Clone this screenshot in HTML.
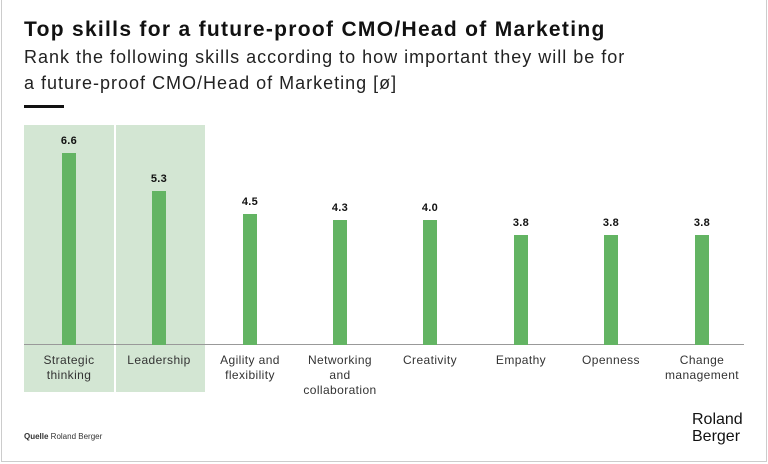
<!DOCTYPE html>
<html><head><style>
body{margin:0;width:768px;height:464px;overflow:hidden;background:#fff;font-family:"Liberation Sans",sans-serif;position:relative}
.frame{position:absolute;left:1px;top:0;width:764px;height:461px;border:1px solid #ccc;border-top:none}
.t{position:absolute;left:24px;top:18px;font-size:21px;font-weight:bold;color:#111;letter-spacing:1.3px;white-space:nowrap}
.s{position:absolute;left:24px;top:44px;font-size:18px;line-height:26px;color:#222;letter-spacing:1px;white-space:nowrap}
.rule{position:absolute;left:24px;top:105px;width:40px;height:3px;background:#111}
.hl{position:absolute;top:125px;height:267px;background:#d3e6d3}
.base{position:absolute;left:24px;top:344px;width:720px;height:1px;background:#999}
.bar{position:absolute;width:14px;background:#63b463;bottom:119px}
.v{position:absolute;width:60px;text-align:center;font-size:11px;font-weight:bold;color:#111;letter-spacing:0.3px}
.l{position:absolute;top:353px;width:100px;text-align:center;font-size:12px;line-height:15px;color:#333;letter-spacing:0.4px}
</style></head><body>
<div class="frame"></div>
<div class="t">Top skills for a future-proof CMO/Head of Marketing</div>
<div class="s">Rank the following skills according to how important they will be for<br>a future-proof CMO/Head of Marketing [ø]</div>
<div class="rule"></div>
<div class="hl" style="left:24px;width:90px"></div>
<div class="hl" style="left:116px;width:89px"></div>
<div class="base"></div>

<div class="bar" style="left:62px;top:153px"></div><div class="v" style="left:39px;top:135px">6.6</div>
<div class="bar" style="left:152px;top:191px"></div><div class="v" style="left:129px;top:173px">5.3</div>
<div class="bar" style="left:243px;top:214px"></div><div class="v" style="left:220px;top:196px">4.5</div>
<div class="bar" style="left:333px;top:220px"></div><div class="v" style="left:310px;top:202px">4.3</div>
<div class="bar" style="left:423px;top:220px"></div><div class="v" style="left:400px;top:202px">4.0</div>
<div class="bar" style="left:514px;top:235px"></div><div class="v" style="left:491px;top:217px">3.8</div>
<div class="bar" style="left:604px;top:235px"></div><div class="v" style="left:581px;top:217px">3.8</div>
<div class="bar" style="left:695px;top:235px"></div><div class="v" style="left:672px;top:217px">3.8</div>

<div class="l" style="left:19px">Strategic<br>thinking</div>
<div class="l" style="left:109px">Leadership</div>
<div class="l" style="left:200px">Agility and<br>flexibility</div>
<div class="l" style="left:290px">Networking<br>and<br>collaboration</div>
<div class="l" style="left:380px">Creativity</div>
<div class="l" style="left:471px">Empathy</div>
<div class="l" style="left:561px">Openness</div>
<div class="l" style="left:652px">Change<br>management</div>

<div style="position:absolute;left:24px;top:432px;font-size:8px;color:#333"><b>Quelle</b> Roland Berger</div>
<div style="position:absolute;left:692px;top:411px;font-size:16px;line-height:17px;color:#111">Roland<br>Berger</div>
</body></html>
